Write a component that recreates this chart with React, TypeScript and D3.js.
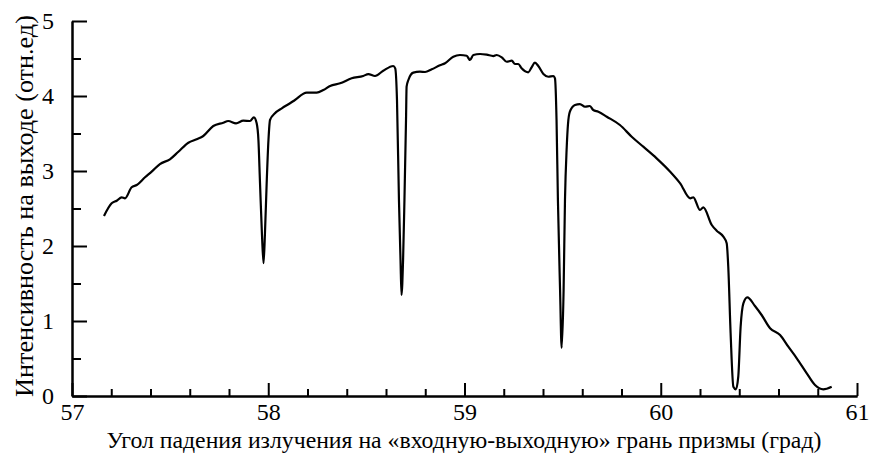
import React, { useEffect, useRef } from "react";
import * as d3 from "d3";

// angle of incidence (deg)
const angles = [
  57.163, 57.202, 57.228, 57.253, 57.27, 57.304, 57.33, 57.372, 57.406, 57.448,
  57.499, 57.542, 57.593, 57.635, 57.669, 57.72, 57.771, 57.796, 57.836, 57.873,
  57.907, 57.927, 57.941, 57.95, 57.958, 57.968, 57.976, 57.983, 57.992, 58.001,
  58.009, 58.034, 58.069, 58.111, 58.136, 58.196, 58.247, 58.281, 58.315, 58.366,
  58.425, 58.484, 58.51, 58.544, 58.586, 58.637, 58.647, 58.656, 58.666, 58.674,
  58.679, 58.687, 58.694, 58.702, 58.705, 58.714, 58.739, 58.773, 58.799, 58.833,
  58.875, 58.901, 58.943, 58.977, 59.011, 59.028, 59.045, 59.079, 59.113, 59.147,
  59.164, 59.19, 59.215, 59.241, 59.257, 59.274, 59.291, 59.325, 59.342, 59.359,
  59.376, 59.402, 59.427, 59.453, 59.461, 59.469, 59.476, 59.487, 59.495, 59.505,
  59.512, 59.521, 59.527, 59.537, 59.563, 59.588, 59.614, 59.639, 59.656, 59.682,
  59.725, 59.792, 59.852, 59.911, 59.979, 60.048, 60.099, 60.15, 60.166, 60.2,
  60.217, 60.26, 60.285, 60.319, 60.336, 60.344, 60.356, 60.37, 60.383, 60.395,
  60.407, 60.421, 60.441, 60.48, 60.514, 60.557, 60.608, 60.65, 60.693, 60.744,
  60.786, 60.828, 60.871,
];

// output intensity (rel. units)
const intensity = [
  2.4, 2.569, 2.604, 2.649, 2.636, 2.783, 2.813, 2.916, 2.991, 3.093,
  3.156, 3.257, 3.377, 3.423, 3.467, 3.6, 3.644, 3.667, 3.636, 3.671,
  3.667, 3.716, 3.636, 3.41, 2.84, 2.15, 1.77, 2.15, 2.84, 3.41,
  3.68, 3.769, 3.836, 3.903, 3.947, 4.044, 4.044, 4.08, 4.133, 4.169,
  4.236, 4.267, 4.293, 4.267, 4.337, 4.4, 4.369, 3.947, 2.613, 1.813,
  1.347, 1.813, 2.613, 3.68, 4.124, 4.213, 4.311, 4.324, 4.32, 4.356,
  4.409, 4.436, 4.524, 4.547, 4.537, 4.48, 4.547, 4.56, 4.551, 4.533,
  4.547, 4.516, 4.457, 4.471, 4.427, 4.427, 4.369, 4.316, 4.383, 4.444,
  4.4, 4.293, 4.257, 4.267, 4.236, 3.68, 2.613, 1.413, 0.64, 1.413,
  2.613, 3.324, 3.613, 3.791, 3.88, 3.893, 3.857, 3.867, 3.813, 3.791,
  3.724, 3.613, 3.457, 3.324, 3.169, 2.991, 2.836, 2.636, 2.649, 2.48,
  2.516, 2.28, 2.204, 2.124, 2.036, 1.724, 0.836, 0.124, 0.089, 0.257,
  0.924, 1.236, 1.316, 1.2, 1.08, 0.903, 0.813, 0.657, 0.503, 0.303,
  0.147, 0.089, 0.124,
];

const xMajor = [57, 58, 59, 60, 61];
const yMajor = [0, 1, 2, 3, 4, 5];

const xTitle = "Угол падения излучения на «входную-выходную» грань призмы (град)";
const yTitle = "Интенсивность на выходе (отн.ед)";

const W = 869;
const H = 467;
const FONT = "Liberation Serif";

const App = () => {
  const ref = useRef<SVGSVGElement>(null);

  useEffect(() => {
    const svg = d3.select(ref.current);
    svg.selectAll("*").remove();

    const x = d3.scaleLinear().domain([57, 61]).range([72, 857]);
    const y = d3.scaleLinear().domain([0, 5]).range([396, 21]);

    const xMinor = d3.range(57, 61.001, 0.2).filter((v) => Math.abs(v - Math.round(v)) > 0.01);
    const yMinor = d3.range(0.5, 5, 1);

    const styleAxis = (g) => {
      g.attr("font-family", FONT).attr("font-size", 24);
      g.select(".domain").attr("stroke", "#000").attr("stroke-width", 2);
      g.selectAll("line").attr("stroke", "#000").attr("stroke-width", 2);
      g.selectAll("text").attr("fill", "#000");
    };

    // minor ticks
    svg
      .append("g")
      .attr("transform", `translate(0,${y(0)})`)
      .call(d3.axisBottom(x).tickValues(xMinor).tickSize(-7).tickSizeOuter(0).tickFormat(() => ""))
      .call(styleAxis);
    svg
      .append("g")
      .attr("transform", `translate(${x(57)},0)`)
      .call(d3.axisLeft(y).tickValues(yMinor).tickSize(-9).tickSizeOuter(0).tickFormat(() => ""))
      .call(styleAxis);

    // major ticks + labels
    svg
      .append("g")
      .attr("transform", `translate(0,${y(0)})`)
      .call(d3.axisBottom(x).tickValues(xMajor).tickSize(-13).tickSizeOuter(0).tickPadding(7).tickFormat(d3.format("d")))
      .call(styleAxis);
    svg
      .append("g")
      .attr("transform", `translate(${x(57)},0)`)
      .call(d3.axisLeft(y).tickValues(yMajor).tickSize(-15).tickSizeOuter(0).tickPadding(18).tickFormat(d3.format("d")))
      .call(styleAxis);

    const pts = angles.map((a, i) => [a, intensity[i]] as [number, number]);
    const line = d3
      .line<[number, number]>()
      .x((d) => x(d[0]))
      .y((d) => y(d[1]))
      .curve(d3.curveMonotoneX);

    svg
      .append("path")
      .datum(pts)
      .attr("d", line)
      .attr("fill", "none")
      .attr("stroke", "#000")
      .attr("stroke-width", 2.2)
      .attr("stroke-linejoin", "round");

    // axis titles, sized to the width they take in the original
    const fit = (sel, target) => {
      const len = (sel.node() as SVGTextElement).getComputedTextLength();
      if (len > 0) sel.attr("font-size", (22 * target) / len);
    };

    const xt = svg
      .append("text")
      .attr("x", 464)
      .attr("y", 448)
      .attr("text-anchor", "middle")
      .attr("font-family", FONT)
      .attr("font-size", 22)
      .text(xTitle);
    fit(xt, 715);

    const yt = svg
      .append("text")
      .attr("transform", `translate(33,206) rotate(-90)`)
      .attr("text-anchor", "middle")
      .attr("font-family", FONT)
      .attr("font-size", 22)
      .text(yTitle);
    fit(yt, 382);
  }, []);

  return (
    <svg
      ref={ref}
      width={W}
      height={H}
      style={{ position: "absolute", left: 0, top: 0, background: "#fff" }}
    />
  );
};

export default App;
